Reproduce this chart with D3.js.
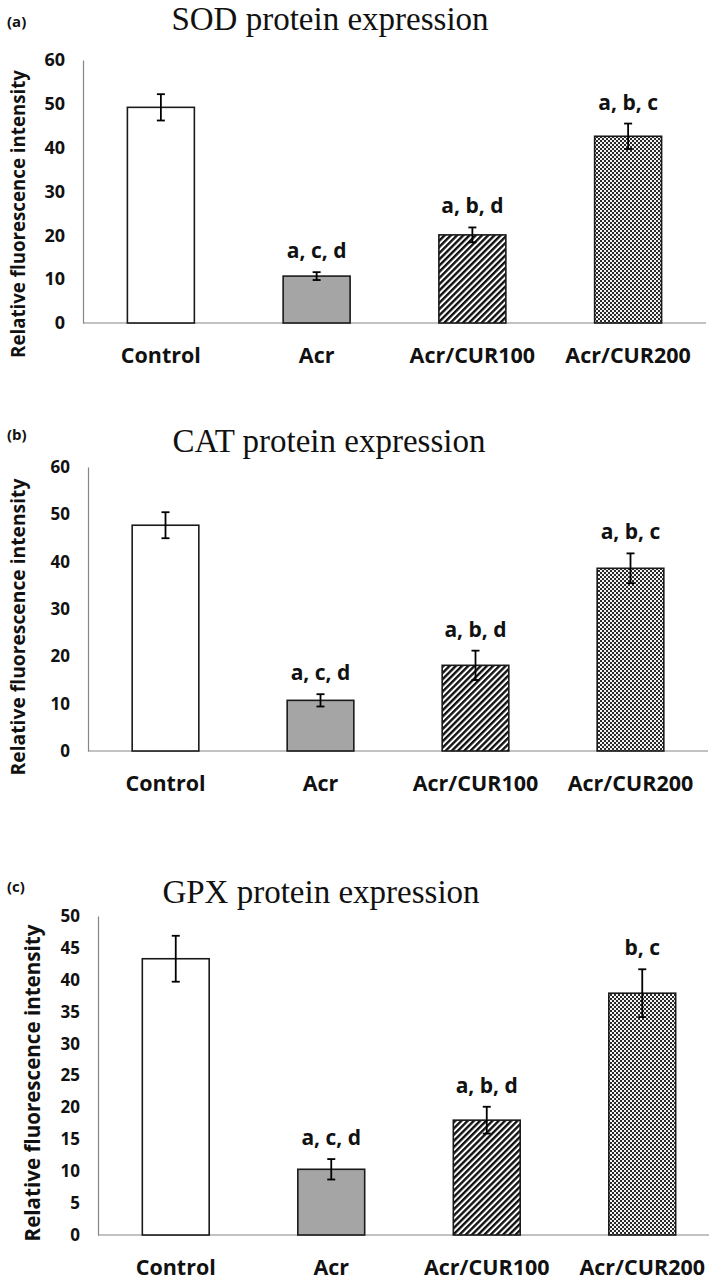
<!DOCTYPE html>
<html>
<head>
<meta charset="utf-8">
<script src="https://cdn.jsdelivr.net/npm/d3@7"></script>
<style>
  html, body { margin: 0; padding: 0; background: #fff; }
  svg { display: block; }
</style>
</head>
<body>
<svg id="chart" width="709" height="1280"></svg>
<script>
// ---------------- DATA ----------------
const categories = ["Control", "Acr", "Acr/CUR100", "Acr/CUR200"];

const sodTitle = "SOD protein expression";
const sodMeans = [49.2, 10.7, 20.1, 42.6];
const sodErrors = [3.0, 0.9, 1.7, 2.9];
const sodLetters = ["", "a, c, d", "a, b, d", "a, b, c"];
const sodTicks = [0, 10, 20, 30, 40, 50, 60];

const catTitle = "CAT protein expression";
const catMeans = [47.7, 10.7, 18.1, 38.6];
const catErrors = [2.75, 1.3, 3.1, 3.15];
const catLetters = ["", "a, c, d", "a, b, d", "a, b, c"];
const catTicks = [0, 10, 20, 30, 40, 50, 60];

const gpxTitle = "GPX protein expression";
const gpxMeans = [43.3, 10.3, 18.0, 37.9];
const gpxErrors = [3.6, 1.6, 2.1, 3.75];
const gpxLetters = ["", "a, c, d", "a, b, d", "b, c"];
const gpxTicks = [0, 5, 10, 15, 20, 25, 30, 35, 40, 45, 50];

const panelTags = ["(a)", "(b)", "(c)"];
const yAxisTitle = "Relative fluorescence intensity";

// ---------------- STYLE / LAYOUT ----------------
const svg = d3.select("#chart");
const SANS = "'Open Sans', 'Noto Sans', sans-serif";
const SERIF = "'Liberation Serif', 'Times New Roman', serif";

const defs = svg.append("defs");
// diagonal stripes
const stripe = defs.append("pattern")
  .attr("id", "stripes").attr("patternUnits", "userSpaceOnUse")
  .attr("width", 4.4).attr("height", 4.4)
  .attr("patternTransform", "rotate(45)");
stripe.append("rect").attr("width", 4.4).attr("height", 4.4).attr("fill", "#fff");
stripe.append("rect").attr("width", 2.4).attr("height", 4.4).attr("fill", "#111");
// small checkerboard
const checker = defs.append("pattern")
  .attr("id", "checker").attr("patternUnits", "userSpaceOnUse")
  .attr("width", 4).attr("height", 4);
checker.append("rect").attr("width", 4).attr("height", 4).attr("fill", "#f4f4f4");
checker.append("rect").attr("width", 2).attr("height", 2).attr("fill", "#2a2a2a");
checker.append("rect").attr("x", 2).attr("y", 2).attr("width", 2).attr("height", 2).attr("fill", "#2a2a2a");

const fills = ["#ffffff", "#a5a5a5", "url(#stripes)", "url(#checker)"];

const panels = [
  { tag: panelTags[0], title: sodTitle, means: sodMeans, errs: sodErrors, letters: sodLetters, ticks: sodTicks,
    x0: 83, x1: 706, yTop: 60, yBot: 323, tagY: 27, titleX: 330, titleY: 30, tickFs: 18,
    ytX: 17, ytY: 214, ytLen: 288 },
  { tag: panelTags[1], title: catTitle, means: catMeans, errs: catErrors, letters: catLetters, ticks: catTicks,
    x0: 88, x1: 708, yTop: 467, yBot: 751, tagY: 440, titleX: 329, titleY: 452, tickFs: 17,
    ytX: 17, ytY: 627, ytLen: 297 },
  { tag: panelTags[2], title: gpxTitle, means: gpxMeans, errs: gpxErrors, letters: gpxLetters, ticks: gpxTicks,
    x0: 98, x1: 720, yTop: 916, yBot: 1235, tagY: 892, titleX: 321, titleY: 903, tickFs: 17,
    ytX: 32, ytY: 1083, ytLen: 317 }
];

panels.forEach(p => {
  const g = svg.append("g");
  const x = d3.scaleBand().domain(categories).range([p.x0, p.x1])
    .paddingInner(0.57).paddingOuter(0.285);
  const y = d3.scaleLinear().domain([0, d3.max(p.ticks)]).range([p.yBot, p.yTop]);

  // panel tag
  g.append("text").attr("x", 7).attr("y", p.tagY)
    .attr("font-family", SANS).attr("font-weight", 700).attr("font-size", 15)
    .attr("fill", "#111").text(p.tag);

  // title
  g.append("text").attr("x", p.titleX).attr("y", p.titleY)
    .attr("text-anchor", "middle").attr("font-family", SERIF)
    .attr("font-size", 33).attr("fill", "#111").text(p.title);

  // y axis
  const yAxis = d3.axisLeft(y).tickValues(p.ticks).tickSize(0).tickPadding(18)
    .tickFormat(d3.format("d"));
  const ya = g.append("g").attr("transform", `translate(${p.x0},0)`).call(yAxis);
  ya.select(".domain").attr("stroke", "#868686").attr("stroke-width", 1.2);
  ya.selectAll("text").attr("font-family", SANS).attr("font-weight", 700)
    .attr("font-size", p.tickFs).attr("fill", "#111");

  // x axis
  const xAxis = d3.axisBottom(x).tickSize(0).tickPadding(0);
  const xa = g.append("g").attr("transform", `translate(0,${p.yBot})`).call(xAxis);
  xa.select(".domain").remove();
  xa.selectAll("text").attr("font-family", SANS).attr("font-weight", 700)
    .attr("font-size", 21.5).attr("fill", "#111")
    .attr("dy", null).attr("y", 40);
  g.append("line").attr("x1", p.x0).attr("x2", Math.min(p.x1, 709))
    .attr("y1", p.yBot).attr("y2", p.yBot)
    .attr("stroke", "#868686").attr("stroke-width", 1.2);

  // y axis title
  const yt = g.append("text")
    .attr("transform", `translate(${p.ytX},${p.ytY}) rotate(-90)`)
    .attr("text-anchor", "middle").attr("dominant-baseline", "central")
    .attr("font-family", SANS).attr("font-weight", 700).attr("font-size", 20)
    .attr("fill", "#111").text(yAxisTitle);
  const len = yt.node().getComputedTextLength();
  yt.attr("font-size", 20 * p.ytLen / len);

  const data = categories.map((c, i) => ({ c, v: p.means[i], e: p.errs[i], l: p.letters[i], f: fills[i] }));

  // bars
  g.selectAll("rect.bar").data(data).join("rect").attr("class", "bar")
    .attr("x", d => x(d.c)).attr("width", x.bandwidth())
    .attr("y", d => y(d.v)).attr("height", d => y(0) - y(d.v))
    .attr("fill", d => d.f).attr("stroke", "#1a1a1a").attr("stroke-width", 1.6);

  // error bars
  const cx = d => x(d.c) + x.bandwidth() / 2;
  const eb = g.selectAll("g.err").data(data).join("g").attr("class", "err")
    .attr("stroke", "#000").attr("stroke-width", 1.8);
  eb.append("line").attr("x1", cx).attr("x2", cx)
    .attr("y1", d => y(d.v + d.e)).attr("y2", d => y(d.v - d.e));
  eb.append("line").attr("x1", d => cx(d) - 4).attr("x2", d => cx(d) + 4)
    .attr("y1", d => y(d.v + d.e)).attr("y2", d => y(d.v + d.e));
  eb.append("line").attr("x1", d => cx(d) - 4).attr("x2", d => cx(d) + 4)
    .attr("y1", d => y(d.v - d.e)).attr("y2", d => y(d.v - d.e));

  // significance letters
  g.selectAll("text.sig").data(data.filter(d => d.l)).join("text").attr("class", "sig")
    .attr("x", cx)
    .attr("y", d => y(d.v + d.e) - 22)
    .attr("text-anchor", "middle").attr("dominant-baseline", "central")
    .attr("font-family", SANS).attr("font-weight", 700).attr("font-size", 21)
    .attr("fill", "#111").text(d => d.l);
});
</script>
</body>
</html>
